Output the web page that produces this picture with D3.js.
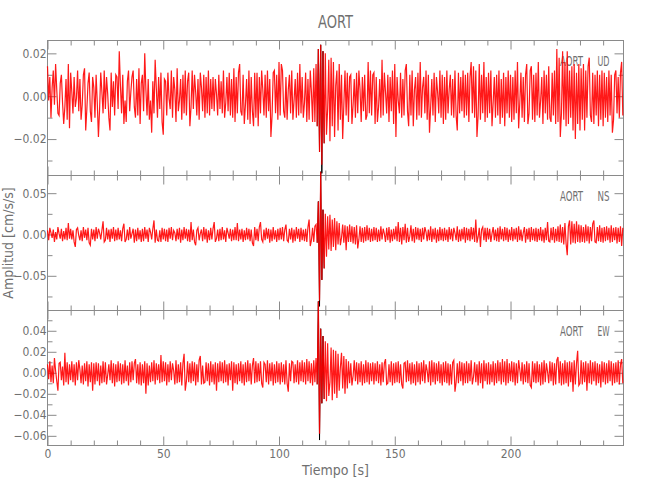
<!DOCTYPE html>
<html>
<head>
<meta charset="utf-8">
<script src="https://cdn.jsdelivr.net/npm/d3@7"></script>
<style>
  html, body { margin: 0; padding: 0; background: #fff; }
  text { font-family: "Liberation Sans Narrow", "DejaVu Sans Condensed", "Liberation Sans", sans-serif; fill: #707070; }
</style>
</head>
<body>
<svg id="chart" width="650" height="500"></svg>
<script>
// ---------------- data (acceleration, thousandths of cm/s/s, one sample every 0.5 s) ----------------
const DT = 0.5;          // s between samples
const UNIT = 0.001;      // stored values are in 0.001 cm/s/s
const stationName = "AORT";
const componentNames = ["UD", "NS", "EW"];

const udValues = [
14,-2,9,-10,4,12,-4,15,3,-8,-9,6,10,-3,-13,-5,8,-11,15,-15,
11,2,-8,9,-5,-1,12,-7,8,-11,-4,10,13,-16,-6,6,11,-7,-12,9,
4,-10,10,-3,-19,-6,11,2,-8,12,-6,9,1,-10,-16,11,-5,7,-9,10,
9,-6,21,5,-8,10,-13,-2,-12,7,12,-7,2,9,12,-5,-10,8,-9,13,
-13,6,10,-7,20,3,-9,8,-11,-2,-17,7,-8,17,4,-10,9,-6,11,-12,
-18,8,7,-9,11,-1,-6,12,-10,9,3,-12,13,-7,-2,8,-11,10,-8,12,
-9,7,11,-14,-5,12,-6,10,2,-9,8,-11,11,4,-7,10,-10,9,-8,12,
-9,8,-6,9,-7,8,1,-9,10,-6,7,-8,12,-10,-3,9,-7,11,-9,8,
-10,13,-12,9,-8,11,15,-7,-9,10,-13,-4,8,-11,12,-13,9,-7,-14,11,
-10,11,-14,9,-8,12,3,-9,10,-10,12,-7,8,-19,-9,11,12,-8,10,-11,
16,-9,15,12,-7,-10,9,-11,3,10,-8,12,-11,-2,8,-10,11,-9,15,-8,
9,-10,-3,11,-12,8,-11,12,2,-12,13,-12,15,-14,22,-26,24,-32,21,-22,
20,-18,-6,17,-21,18,-14,16,-19,5,12,-16,15,-11,10,-20,-4,12,-9,11,
-12,9,10,-13,-4,8,-10,11,-8,12,3,-12,9,-7,10,-11,-9,16,-8,12,
-9,10,11,-13,9,-12,-5,8,-10,17,-9,11,2,-8,10,-12,9,-7,12,-13,
15,-19,9,-2,-8,11,-10,8,-9,12,15,-7,-14,10,-9,12,-14,3,9,-11,
11,-9,16,-10,4,9,-8,12,-11,10,-17,-5,8,-9,11,-12,9,2,-8,12,
-10,10,-13,9,-11,12,-8,3,10,-9,8,-10,12,-9,-16,11,-8,9,-7,12,
-10,10,-9,11,-12,9,16,-8,14,-10,12,-19,-9,15,-11,10,-8,16,-12,9,
-10,11,-8,12,-14,-3,9,-10,10,-9,12,-13,8,-10,11,-14,9,-8,12,-10,
10,-12,9,-11,12,-8,16,-15,-3,11,-10,9,-12,10,15,-13,-8,12,14,-11,
10,-12,11,-9,16,-10,-2,9,-13,12,-8,10,-11,14,-10,-12,11,-9,12,-13,
22,-12,18,-19,-8,21,-11,16,-14,21,-13,12,-10,14,-16,15,-20,11,-13,15,
-16,13,-11,15,-16,12,-10,14,18,-9,-12,11,-13,10,-9,12,-14,10,-11,12,
-14,11,-10,9,-12,12,-9,10,-17,-11,10,12,-8,9,-10,11,16,-9
];

const nsValues = [
5,-7,8,2,-4,6,-9,3,-6,9,1,-5,7,-8,4,-6,8,-7,14,-5,
7,-6,5,-9,-15,6,8,-1,-7,5,-8,9,-4,6,-7,8,-10,-13,7,-6,
6,-8,9,-5,7,2,-6,5,16,-9,-7,8,-6,6,-9,7,-5,9,-8,6,
-7,8,-6,5,-8,7,13,-9,-6,6,-7,9,-5,1,7,-10,6,-8,8,-6,
5,-9,7,-8,9,-5,6,-9,8,3,-6,7,17,-10,6,-7,-8,5,-9,8,
-6,7,-8,6,-9,8,-5,9,-7,5,2,-8,7,-6,8,-10,6,-7,9,-5,
7,-8,6,-9,15,-7,6,-9,-13,5,8,-7,1,6,-8,9,-6,7,-10,5,
-7,8,-6,7,15,-9,-5,6,-8,7,-7,9,-6,5,-9,8,2,-5,7,-8,
6,-7,9,-7,14,-8,6,-6,7,-9,5,-7,8,-6,7,-8,6,-10,-14,9,
-7,7,-8,9,15,-6,-9,6,-7,8,-5,7,-10,6,-8,9,-6,5,-9,7,
-7,8,-6,9,-8,6,12,-7,-9,7,-6,8,-10,6,-8,9,-5,7,-9,8,
-7,6,-8,7,-9,9,18,-14,-7,8,-9,10,12,-10,40,-80,76,-55,30,-41,
25,-27,22,-18,24,-20,18,-15,20,-19,16,-12,14,-13,-4,12,-10,11,-19,10,
-9,12,-9,10,-11,9,-12,11,-17,-6,10,-9,8,-10,9,-8,11,-7,8,-9,
7,-8,9,-7,8,-9,6,-8,10,-6,7,1,-9,8,-7,9,-10,6,-8,7,
-6,10,-8,15,-9,8,-12,9,-7,13,-10,8,-9,-2,11,-8,7,-10,9,-6,
8,-7,7,-9,8,-6,9,3,-8,6,-7,10,-9,7,-6,8,-10,6,-8,9,
-7,7,-8,8,-7,6,-9,9,-6,7,-8,8,2,-7,10,-9,6,-8,7,-6,
9,-10,8,-7,7,-8,9,-6,8,-9,18,-10,-3,8,-15,6,9,-7,8,-9,
8,-6,7,-9,1,9,-7,6,-8,8,-9,10,-6,7,-8,9,-7,8,-9,6,
-7,9,-8,7,-6,8,-9,10,-7,6,-8,2,9,-10,7,-6,8,-9,9,-7,
7,-8,8,-9,7,-7,9,-8,6,-10,8,-7,15,-8,-9,8,-7,9,-10,7,
-8,10,-9,12,-10,9,-12,14,-11,-25,10,17,-12,16,-10,13,-11,16,-9,12,
-10,11,-9,9,-10,12,-8,10,-11,9,-8,13,17,-9,-10,9,-8,11,-9,8,
-10,9,-8,10,-7,8,-10,11,-9,8,-7,9,-11,8,-9,10,-14,8
];

const ewValues = [
8,-6,11,-9,7,-10,14,2,-8,-17,9,10,-7,6,-12,19,-9,10,-11,8,
-7,11,-9,8,-12,10,-7,12,3,-10,7,-11,9,-8,11,-13,8,-9,10,-17,
9,-11,10,-8,9,-12,7,-10,11,-9,10,-11,-2,8,-7,12,-10,9,-13,8,
-9,11,-8,9,-11,8,-10,12,-8,7,-12,10,-9,11,-7,9,13,-10,8,-11,
10,-12,8,-10,11,-20,9,-12,7,-9,10,-8,12,-11,9,-7,8,-10,17,-9,
11,-8,10,-12,8,-9,11,-7,9,2,-11,12,-10,8,-9,10,-12,9,18,-17,
-8,11,-9,9,-10,11,-8,10,-12,8,-9,12,16,-11,7,-10,-9,10,-8,9,
-12,11,-9,8,-11,10,-17,9,-9,11,-8,10,-10,12,-9,8,-12,9,-7,11,
-17,10,-10,8,-11,9,-8,11,-10,8,-12,10,-9,12,-8,9,-11,7,14,-10,
11,-9,9,-8,11,-10,-14,10,8,-9,12,-11,9,-8,10,-12,8,-10,11,-9,
9,-11,10,-9,8,-11,12,-10,-18,9,-8,11,10,-10,8,-9,12,-11,10,-8,
12,-9,10,-11,13,-8,11,-10,9,-12,12,-9,14,-11,68,-58,42,-29,35,-25,
30,-27,28,-22,-9,24,-26,22,-20,21,-24,18,-17,5,19,-15,16,-20,13,-15,
11,-10,9,-12,-3,12,-8,10,-11,9,-9,11,-12,8,-10,12,-9,10,-11,9,
-8,10,-11,9,-8,11,-10,8,-12,10,-9,9,13,-11,-10,8,-9,11,-12,9,
-10,10,-9,11,-10,8,-11,-15,9,10,-9,12,-8,9,-11,10,-10,8,-12,11,
-9,9,-11,10,-8,12,-10,8,2,-9,11,-12,12,-9,10,-11,9,-8,11,-10,
8,-12,10,-9,11,-10,9,-12,8,-11,10,12,-18,-9,9,-10,11,-8,10,-12,
9,-10,11,-10,9,-8,12,-11,-4,10,-9,8,-12,11,-10,9,-15,12,-8,9,
-11,10,-11,8,-9,11,-12,9,-10,12,-8,10,-11,13,-9,11,-12,13,-10,9,
-8,11,-9,10,-12,9,-10,12,3,-8,10,-11,8,-9,11,-10,9,-12,-14,11,
-9,9,-10,11,-9,8,-12,10,-11,12,-9,9,1,-10,11,-8,10,-12,9,-11,
12,15,-10,11,-12,9,-11,12,-10,10,-13,11,-9,10,-18,12,-11,9,21,-12,
-10,12,-11,10,-9,11,-17,9,-10,12,-11,10,-8,11,-12,9,-10,8,-14,11,
-9,10,-11,9,-10,12,-8,11,-12,9,-10,10,-9,12,-11,8,13,-10
];

// unfiltered (black) trace around the arrival, where it pokes out beyond the red one
const BLACK_T0 = 116.5;
const udBlack = [-14,22,-26,24,-36,21,-22];
const nsBlack = [-10,40,-87,76,-55,30,-41];
const ewBlack = [-11,68,-64,42,-29,35,-25];

// axis ranges and ticks
const timeDomain = [0, 248.8];
const xMajorTicks = [0, 50, 100, 150, 200];
const xMinorTicks = [10,20,30,40,60,70,80,90,110,120,130,140,160,170,180,190,210,220,230,240];

const udDomain = [-0.037, 0.026];
const nsDomain = [-0.092, 0.0714];
const ewDomain = [-0.0692, 0.0593];
const udMajor = [-0.02, 0.00, 0.02];
const udMinor = [-0.03, -0.01, 0.01];
const nsMajor = [-0.05, 0.00, 0.05];
const nsMinor = [-0.075, -0.025, 0.025];
const ewMajor = [-0.06, -0.04, -0.02, 0.00, 0.02, 0.04];
const ewMinor = [-0.05, -0.03, -0.01, 0.01, 0.03, 0.05];

// ---------------- drawing ----------------
const svg = d3.select("#chart");
const AXIS = "#8a8a8a";
const left = 47.5, right = 623.5;
const panelTop = [40.5, 175.5, 310.5];
const panelH = 135;

const x = d3.scaleLinear().domain(timeDomain).range([left, right]);

const panels = [
  {comp: componentNames[0], values: udValues, black: udBlack, domain: udDomain, major: udMajor, minor: udMinor},
  {comp: componentNames[1], values: nsValues, black: nsBlack, domain: nsDomain, major: nsMajor, minor: nsMinor},
  {comp: componentNames[2], values: ewValues, black: ewBlack, domain: ewDomain, major: ewMajor, minor: ewMinor}
];

const fmt = d3.format(".2f");

function styleAxis(g) {
  g.select(".domain").remove();
  g.selectAll(".tick line").attr("stroke", AXIS).attr("stroke-width", 1);
  g.selectAll(".tick text").attr("fill", "#707070").style("font-size", "12px")
    .style("font-family", '"Liberation Sans Narrow", "DejaVu Sans Condensed", sans-serif');
}

panels.forEach((p, i) => {
  const top = panelTop[i], bottom = top + panelH;
  const y = d3.scaleLinear().domain(p.domain).range([bottom, top]);
  const isLast = i === panels.length - 1;

  // frame
  svg.append("rect").attr("x", left).attr("y", top).attr("width", right - left).attr("height", panelH)
    .attr("fill", "none").attr("stroke", AXIS).attr("stroke-width", 1);

  // y axes (left with labels, right without)
  svg.append("g").attr("transform", `translate(${left},0)`)
    .call(d3.axisLeft(y).tickValues(p.major).tickSize(-9).tickPadding(1).tickFormat(fmt)).call(styleAxis);
  svg.append("g").attr("transform", `translate(${left},0)`)
    .call(d3.axisLeft(y).tickValues(p.minor).tickSize(-5).tickFormat("")).call(styleAxis);
  svg.append("g").attr("transform", `translate(${right},0)`)
    .call(d3.axisRight(y).tickValues(p.major).tickSize(-9).tickFormat("")).call(styleAxis);
  svg.append("g").attr("transform", `translate(${right},0)`)
    .call(d3.axisRight(y).tickValues(p.minor).tickSize(-5).tickFormat("")).call(styleAxis);

  // x axes (top and bottom of every panel)
  svg.append("g").attr("transform", `translate(0,${top})`)
    .call(d3.axisTop(x).tickValues(xMajorTicks).tickSize(-9).tickFormat("")).call(styleAxis);
  svg.append("g").attr("transform", `translate(0,${top})`)
    .call(d3.axisTop(x).tickValues(xMinorTicks).tickSize(-5).tickFormat("")).call(styleAxis);
  svg.append("g").attr("transform", `translate(0,${bottom})`)
    .call(d3.axisBottom(x).tickValues(xMajorTicks).tickSize(-9).tickPadding(4)
      .tickFormat(isLast ? d3.format("d") : "")).call(styleAxis);
  svg.append("g").attr("transform", `translate(0,${bottom})`)
    .call(d3.axisBottom(x).tickValues(xMinorTicks).tickSize(-5).tickFormat("")).call(styleAxis);

  // station / component label
  svg.append("text").attr("x", 560).attr("y", top + 25.5).attr("textLength", 23)
    .attr("lengthAdjust", "spacingAndGlyphs").style("font-size", "14px").text(stationName);
  svg.append("text").attr("x", 597.5).attr("y", top + 25.5).attr("textLength", 12)
    .attr("lengthAdjust", "spacingAndGlyphs").style("font-size", "14px").text(p.comp);

  // black trace (beneath) then red trace
  const i0 = Math.round(BLACK_T0 / DT);
  const blackLine = d3.line().x((v, k) => x((i0 + k) * DT)).y(v => y(v * UNIT));
  svg.append("path").attr("d", blackLine(p.black)).attr("fill", "none")
    .attr("stroke", "#000").attr("stroke-width", 1);

  const line = d3.line().x((v, k) => x(k * DT)).y(v => y(v * UNIT));
  svg.append("path").attr("d", line(p.values)).attr("fill", "none")
    .attr("stroke", "#ff0000").attr("stroke-width", 1.2).attr("stroke-opacity", 0.9);
});

// title and axis titles
svg.append("text").attr("x", (left + right) / 2).attr("y", 28).attr("text-anchor", "middle")
  .attr("textLength", 35).attr("lengthAdjust", "spacingAndGlyphs")
  .style("font-size", "18px").text(stationName);

svg.append("text").attr("x", (left + right) / 2).attr("y", 475).attr("text-anchor", "middle")
  .style("font-size", "14px").text("Tiempo [s]");

svg.append("text").attr("transform", `translate(12.5,${(panelTop[0] + panelTop[2] + panelH) / 2}) rotate(-90)`)
  .attr("text-anchor", "middle").style("font-size", "14px").text("Amplitud [cm/s/s]");
</script>
</body>
</html>
